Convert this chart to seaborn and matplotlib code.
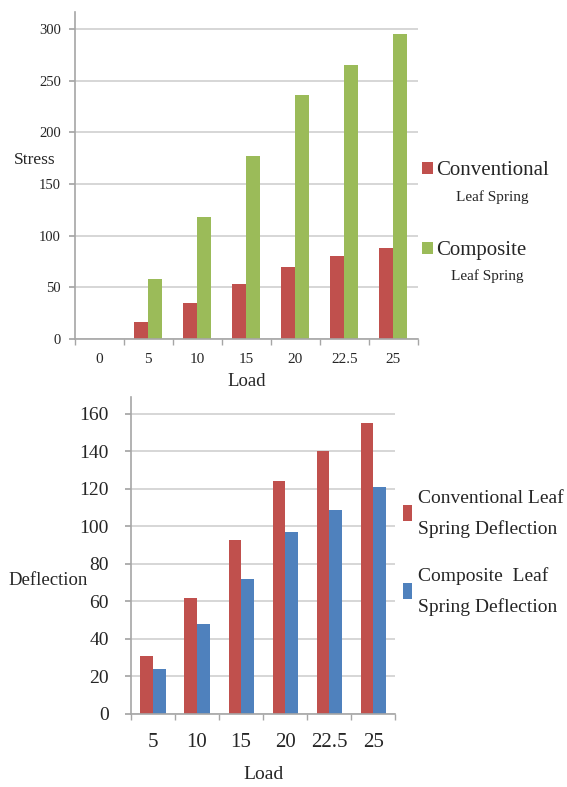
import pandas as pd
import numpy as np
import matplotlib
matplotlib.use('Agg')
import matplotlib.pyplot as plt
import seaborn as sns

# ── data ───────────────────────────────────────────────────────────────────────
stress_loads = ['0', '5', '10', '15', '20', '22.5', '25']
stress_conventional = [0, 17, 35, 53, 70, 80, 88]
stress_composite = [0, 58, 118, 177, 236, 265, 295]

defl_loads = ['5', '10', '15', '20', '22.5', '25']
defl_conventional = [31, 62, 93, 124, 140, 155]
defl_composite = [24, 48, 72, 97, 109, 121]

RED, GREEN, BLUE = '#C0504D', '#9BBB59', '#4F81BD'

sns.set_theme(style='white')
plt.rcParams['font.family'] = ['Liberation Serif', 'DejaVu Serif']

stress_df = pd.DataFrame({
    'Load': stress_loads * 2,
    'Stress': stress_conventional + stress_composite,
    'Series': ['Conventional'] * len(stress_loads) + ['Composite'] * len(stress_loads),
})
defl_df = pd.DataFrame({
    'Load': defl_loads * 2,
    'Deflection': defl_conventional + defl_composite,
    'Series': ['Conventional Leaf\nSpring Deflection'] * len(defl_loads)
              + ['Composite  Leaf\nSpring Deflection'] * len(defl_loads),
})

fig = plt.figure(figsize=(5.67, 7.87), dpi=100)


def excel_axes(ax, ncat, ymax, step, xfs, yfs, xpad, ypad):
    ax.set_ylim(0, ymax)
    ax.set_xlim(-0.5, ncat - 0.5)
    ax.set_yticks(np.arange(0, ymax, step))
    ax.yaxis.grid(True, color='#cfcfcf', linewidth=1.2)
    ax.set_axisbelow(True)
    for s in ['top', 'right']:
        ax.spines[s].set_visible(False)
    for s in ['left', 'bottom']:
        ax.spines[s].set_color('#a6a6a6')
        ax.spines[s].set_linewidth(1.2)
    ax.set_xticks(np.arange(-0.5, ncat, 1), minor=True)
    ax.tick_params(axis='x', which='major', length=0, labelsize=xfs, pad=xpad)
    ax.tick_params(axis='x', which='minor', length=4, color='#a6a6a6', direction='out', bottom=True)
    ax.tick_params(axis='y', length=4, color='#a6a6a6', direction='out', left=True,
                   labelsize=yfs, pad=ypad)


# ── top: stress ────────────────────────────────────────────────────────────────
ax1 = fig.add_axes([0.132, 0.569, 0.605, 0.416])
sns.barplot(data=stress_df, x='Load', y='Stress', hue='Series', order=stress_loads,
            palette=[RED, GREEN], width=0.57, gap=0, saturation=1, linewidth=0, ax=ax1)
excel_axes(ax1, len(stress_loads), 316.5, 50, 11, 10.5, 10, 6)
ax1.set_ylabel('Stress', rotation=0, fontsize=12.5, va='center', ha='center')
ax1.yaxis.set_label_coords(-0.117, 0.547)
ax1.set_xlabel('Load', fontsize=13.5, labelpad=5)
h1, _ = ax1.get_legend_handles_labels()
leg1 = ax1.legend(h1, ['Conventional', 'Composite'], loc='upper left',
                  bbox_to_anchor=(0.745, 0.795), bbox_transform=fig.transFigure,
                  frameon=False, fontsize=15, labelspacing=2.93, handlelength=0.5,
                  handleheight=0.5, handletextpad=0.15, borderpad=0, borderaxespad=0)
fig.text(0.868, 0.750, 'Leaf Spring', fontsize=11, ha='center', va='center')
fig.text(0.859, 0.649, 'Leaf Spring', fontsize=11, ha='center', va='center')

# ── bottom: deflection ─────────────────────────────────────────────────────────
ax2 = fig.add_axes([0.231, 0.0928, 0.466, 0.4028])
sns.barplot(data=defl_df, x='Load', y='Deflection', hue='Series', order=defl_loads,
            palette=[RED, BLUE], width=0.57, gap=0, saturation=1, linewidth=0, ax=ax2)
excel_axes(ax2, len(defl_loads), 169, 20, 15, 14, 14, 12)
ax2.set_ylabel('Deflection', rotation=0, fontsize=13.5, va='center', ha='center')
ax2.yaxis.set_label_coords(-0.315, 0.42)
ax2.set_xlabel('Load', fontsize=14, labelpad=10)
leg2 = ax2.legend(loc='upper left', bbox_to_anchor=(0.71, 0.378),
                  bbox_transform=fig.transFigure, frameon=False, fontsize=14,
                  labelspacing=1.5, handlelength=0.5, handleheight=0.9,
                  handletextpad=0.3, borderpad=0, borderaxespad=0)
for t in leg2.get_texts():
    t.set_linespacing(1.95)

fig.savefig('out.png', dpi=100)
